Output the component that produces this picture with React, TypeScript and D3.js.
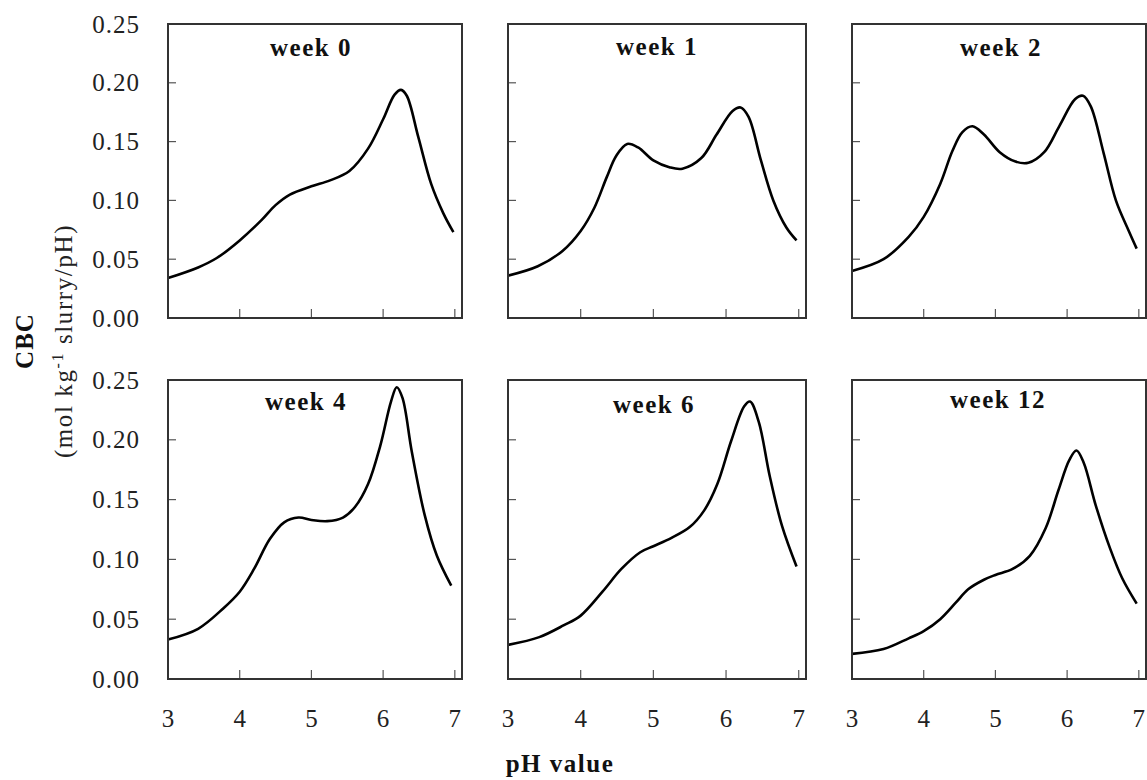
import React from "react";
import * as d3 from "d3";

// ---- data ----
const panelTitles = ["week 0", "week 1", "week 2", "week 4", "week 6", "week 12"];
const yTicks = [0.0, 0.05, 0.1, 0.15, 0.2, 0.25];
const xTicks = [3, 4, 5, 6, 7];

const week0: [number, number][] = [
  [3.0, 0.034], [3.42, 0.043], [3.68, 0.051], [4.0, 0.066], [4.3, 0.083], [4.5, 0.096],
  [4.7, 0.105], [5.0, 0.112], [5.26, 0.117], [5.53, 0.125], [5.79, 0.144], [6.0, 0.169],
  [6.16, 0.19], [6.25, 0.194], [6.33, 0.189], [6.49, 0.154], [6.67, 0.114], [6.84, 0.089],
  [6.98, 0.073],
];
const week1: [number, number][] = [
  [3.0, 0.036], [3.41, 0.044], [3.75, 0.057], [4.0, 0.074], [4.19, 0.094], [4.36, 0.12],
  [4.49, 0.138], [4.64, 0.148], [4.79, 0.145], [5.0, 0.134], [5.23, 0.128], [5.4, 0.127],
  [5.66, 0.136], [5.87, 0.156], [6.09, 0.176], [6.2, 0.179], [6.31, 0.171], [6.48, 0.134],
  [6.65, 0.1], [6.83, 0.077], [6.97, 0.066],
];
const week2: [number, number][] = [
  [3.0, 0.04], [3.44, 0.05], [3.79, 0.069], [4.0, 0.086], [4.23, 0.114], [4.4, 0.142],
  [4.54, 0.158], [4.68, 0.163], [4.84, 0.156], [5.06, 0.141], [5.28, 0.133], [5.46, 0.132],
  [5.68, 0.141], [5.89, 0.163], [6.11, 0.186], [6.22, 0.189], [6.33, 0.18], [6.51, 0.14],
  [6.68, 0.1], [6.86, 0.074], [6.97, 0.059],
];
const week4: [number, number][] = [
  [3.0, 0.033], [3.42, 0.042], [3.77, 0.059], [4.0, 0.073], [4.2, 0.092], [4.42, 0.117],
  [4.62, 0.131], [4.82, 0.135], [5.0, 0.133], [5.22, 0.132], [5.44, 0.135], [5.61, 0.144],
  [5.79, 0.163], [5.96, 0.195], [6.11, 0.232], [6.19, 0.244], [6.27, 0.235], [6.4, 0.19],
  [6.58, 0.137], [6.75, 0.103], [6.95, 0.078],
];
const week6: [number, number][] = [
  [3.0, 0.0285], [3.43, 0.035], [3.77, 0.045], [4.0, 0.053], [4.3, 0.073], [4.56, 0.092],
  [4.82, 0.106], [5.0, 0.111], [5.25, 0.118], [5.5, 0.127], [5.7, 0.141], [5.88, 0.163],
  [6.07, 0.199], [6.25, 0.228], [6.33, 0.232], [6.45, 0.215], [6.6, 0.17], [6.77, 0.128],
  [6.97, 0.094],
];
const week12: [number, number][] = [
  [3.0, 0.021], [3.44, 0.025], [3.79, 0.034], [4.0, 0.04], [4.23, 0.05], [4.45, 0.064],
  [4.62, 0.075], [4.84, 0.083], [5.0, 0.087], [5.24, 0.092], [5.48, 0.103], [5.7, 0.126],
  [5.88, 0.158], [6.03, 0.183], [6.13, 0.191], [6.23, 0.181], [6.4, 0.145], [6.6, 0.109],
  [6.77, 0.084], [6.97, 0.063],
];
const series = [week0, week1, week2, week4, week6, week12];

// ---- layout ----
const colLeft = [168, 508, 852];
const colWidth = [294, 298, 294];
const rowTop = [24, 380];
const rowHeight = [294, 299];
const titleDx = [-4, 0, 2, -9, -3, -1];
const titleDy = [32, 31, 32, 30, 33, 28];
const FONT = "'Liberation Serif', 'Times New Roman', serif";

export default function App() {
  const width = 1147;
  const height = 780;
  return (
    <svg width={width} height={height} style={{ position: "absolute", left: 0, top: 0, background: "#fff" }}>
      {series.map((data, i) => {
        const col = i % 3;
        const row = Math.floor(i / 3);
        const x0 = colLeft[col];
        const w = colWidth[col];
        const y0 = rowTop[row];
        const h = rowHeight[row];
        const xs = d3.scaleLinear().domain([3, 7.1]).range([x0, x0 + w]);
        const ys = d3.scaleLinear().domain([0, 0.25]).range([y0 + h, y0]);
        const line = d3
          .line<[number, number]>()
          .x((d) => xs(d[0]))
          .y((d) => ys(d[1]))
          .curve(d3.curveCatmullRom.alpha(0.5));
        return (
          <g key={i}>
            {yTicks
              .filter((t) => t > 0 && t < 0.25)
              .map((t) => (
                <line key={"yt" + t} x1={x0} x2={x0 + 8} y1={ys(t)} y2={ys(t)} stroke="#555" strokeWidth={1.2} />
              ))}
            {xTicks
              .filter((t) => t > 3)
              .map((t) => (
                <line key={"xt" + t} x1={xs(t)} x2={xs(t)} y1={y0 + h} y2={y0 + h - 9} stroke="#555" strokeWidth={1.2} />
              ))}
            <path d={line(data) || ""} fill="none" stroke="#000" strokeWidth={2.6} strokeLinejoin="round" />
            <rect x={x0} y={y0} width={w} height={h} fill="none" stroke="#333" strokeWidth={2} />
            <text
              x={x0 + w / 2 + titleDx[i]}
              y={y0 + titleDy[i]}
              textAnchor="middle"
              fontFamily={FONT}
              fontWeight="bold"
              fontSize={25}
              letterSpacing={1.5}
              fill="#111"
            >
              {panelTitles[i]}
            </text>
            {col === 0 &&
              yTicks.map((t) => (
                <text
                  key={"yl" + t}
                  x={140}
                  y={ys(t) + 8.5}
                  textAnchor="end"
                  fontFamily={FONT}
                  fontSize={25}
                  letterSpacing={1}
                  fill="#222"
                >
                  {d3.format(".2f")(t)}
                </text>
              ))}
            {row === 1 &&
              xTicks.map((t) => (
                <text
                  key={"xl" + t}
                  x={xs(t)}
                  y={727}
                  textAnchor="middle"
                  fontFamily={FONT}
                  fontSize={25}
                  fill="#222"
                >
                  {t}
                </text>
              ))}
          </g>
        );
      })}
      <text
        transform="translate(33,341) rotate(-90)"
        textAnchor="middle"
        fontFamily={FONT}
        fontWeight="bold"
        fontSize={25}
        letterSpacing={1}
        fill="#111"
      >
        CBC
      </text>
      <text
        transform="translate(72,341) rotate(-90)"
        textAnchor="middle"
        fontFamily={FONT}
        fontSize={25}
        letterSpacing={1.6}
        fill="#222"
      >
        (mol kg
        <tspan dy={-9} fontSize={16}>-1</tspan>
        <tspan dy={9}> slurry/pH)</tspan>
      </text>
      <text x={560} y={772} textAnchor="middle" fontFamily={FONT} fontWeight="bold" fontSize={25} letterSpacing={1.5} fill="#111">
        pH value
      </text>
    </svg>
  );
}
